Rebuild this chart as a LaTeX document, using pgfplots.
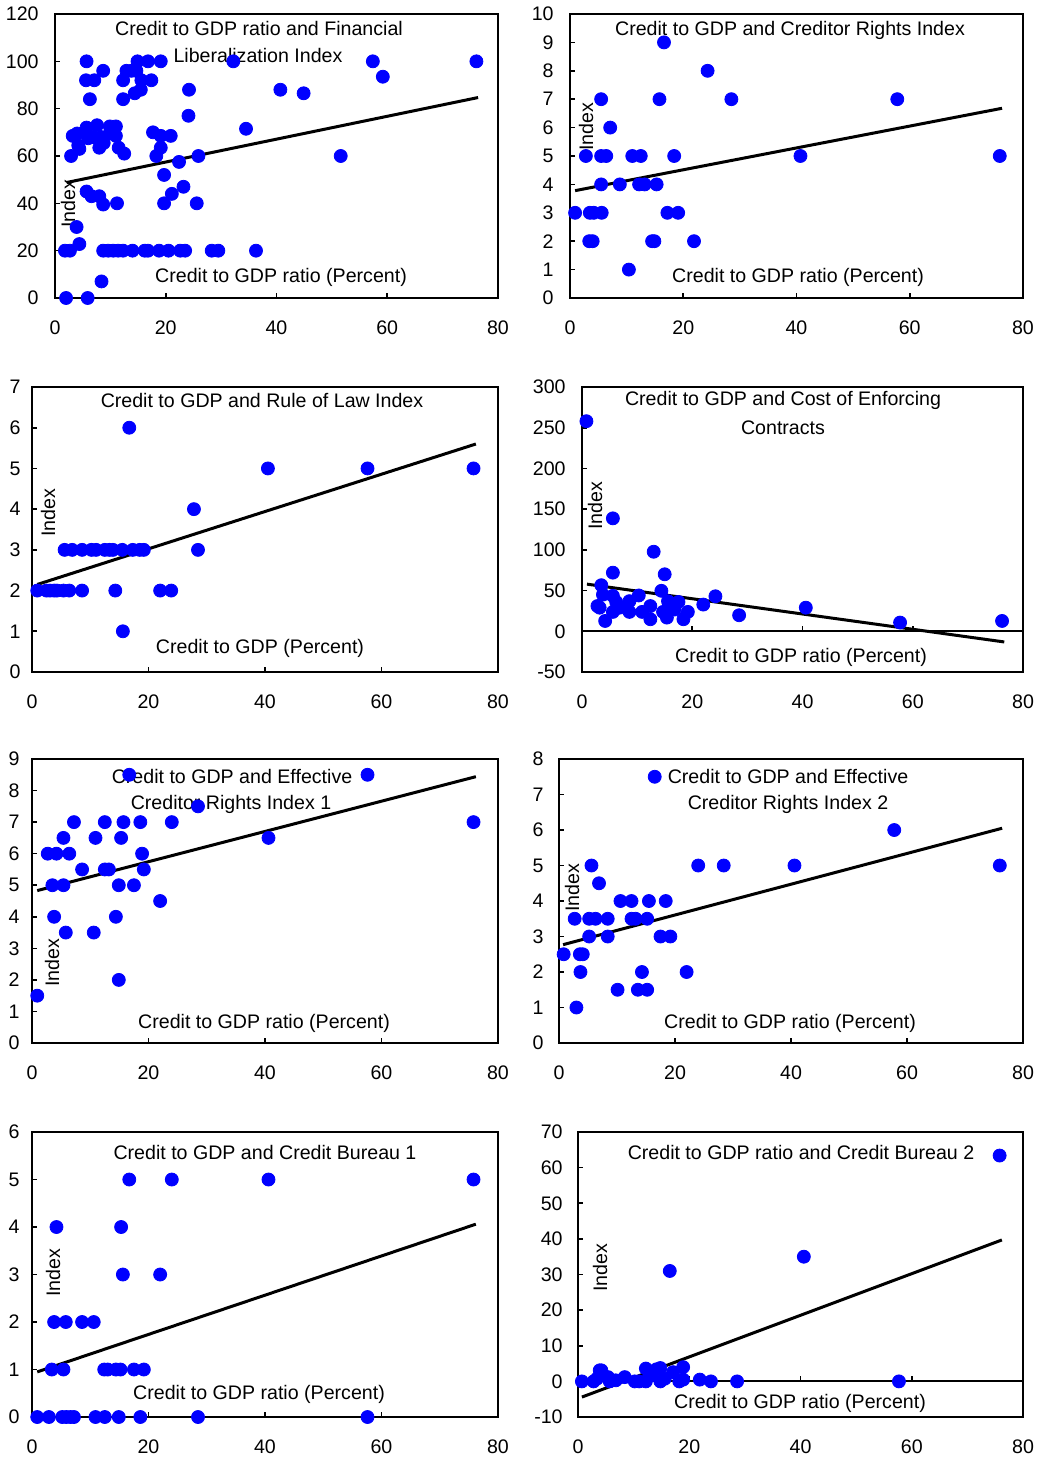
\documentclass[border=0pt]{standalone}
\usepackage{fontspec}
\setmainfont{Liberation Sans}
\usepackage{pgfplots}
\pgfplotsset{compat=1.18}
\newcommand\fs{\fontsize{9.8}{11.8}\selectfont}
\pgfplotsset{
  panel/.style={
    scale only axis, anchor=south west,
    xmin=0, xmax=80, xtick={0,20,40,60,80},
    tick align=inside, major tick length=2.5pt, tick pos=left,
    axis line style={line width=1pt},
    every tick/.style={black, line width=0.8pt},
    ticklabel style={font=\fs},
    /pgf/number format/assume math mode=true,
    xticklabel style={anchor=center, inner sep=0pt, yshift=-15pt},
    yticklabel style={anchor=east, inner sep=0pt, xshift=-8pt},
    clip=false,
  },
  dots/.style={only marks, mark=*, mark size=3.25pt, mark options={fill=blue, draw=blue}},
  trend/.style={black, line width=1.5pt, no marks},
}
\begin{document}
\begin{tikzpicture}
\path[use as bounding box] (0,0) rectangle (519.5pt,-730pt);
\begin{scope}[x=0.5pt,y=-0.5pt,every node/.style={font=\fs, inner sep=0pt}]
\node at (259,28) {Credit to GDP ratio and Financial};
\node at (258,56) {Liberalization Index};
\node at (281,277) {Credit to GDP ratio (Percent)};
\node[rotate=90] at (68,204) {Index};
\node at (790,30) {Credit to GDP and Creditor Rights Index};
\node at (798,277) {Credit to GDP ratio (Percent)};
\node[rotate=90] at (586,127) {Index};
\node at (262,400) {Credit to GDP and Rule of Law Index};
\node at (260,648) {Credit to GDP (Percent)};
\node[rotate=90] at (48,513) {Index};
\node at (783,400) {Credit to GDP and Cost of Enforcing};
\node at (783,428) {Contracts};
\node at (801,657) {Credit to GDP ratio (Percent)};
\node[rotate=90] at (595,506) {Index};
\node at (232,776) {Credit to GDP and Effective};
\node at (231,804) {Creditor Rights Index 1};
\node at (264,1023) {Credit to GDP ratio (Percent)};
\node[rotate=90] at (52,963) {Index};
\node at (788,776) {Credit to GDP and Effective};
\node at (788,804) {Creditor Rights Index 2};
\node at (790,1023) {Credit to GDP ratio (Percent)};
\node[rotate=90] at (572,888) {Index};
\node at (265,1152) {Credit to GDP and Credit Bureau 1};
\node at (259,1394) {Credit to GDP ratio (Percent)};
\node[rotate=90] at (53,1273) {Index};
\node at (801,1152) {Credit to GDP ratio and Credit Bureau 2};
\node at (800,1403) {Credit to GDP ratio (Percent)};
\node[rotate=90] at (600,1268) {Index};
\end{scope}

% Panel 1
\begin{axis}[panel, at={(27.5pt,-149pt)}, width=221.5pt, height=142pt,
  ymin=0, ymax=120, ytick={0,20,...,120}]
\addplot[dots] coordinates {(2.0,0) (5.9,0) (8.4,7) (1.8,20) (2.7,20) (4.4,22.8) (3.9,30) (5.7,45) (6.6,43) (8.0,43) (8.7,39.5) (11.2,40) (2.9,60) (3.2,68.5) (4.0,69.5) (4.2,64.5) (4.4,63) (5.7,72) (6.0,67.5) (6.9,68) (7.6,73) (8.0,63.5) (8.4,68) (8.8,65.5) (9.9,72.5) (11.0,72.5) (9.9,69.5) (11.0,68.5) (11.5,63.5) (12.5,61) (5.7,100) (5.6,92) (7.1,92) (6.3,84) (8.7,96) (12.3,92) (12.3,84) (12.9,96) (13.8,96) (14.7,96) (14.9,100) (16.8,100) (19.1,100) (14.4,86.5) (15.5,88) (15.6,92) (17.4,92) (17.7,70) (18.3,60) (19.1,68.5) (19.1,63.5) (20.9,68.5) (19.7,52) (19.7,40) (21.1,44) (22.4,57.5) (23.2,47) (24.2,88) (24.1,77) (25.9,60) (25.6,40) (32.2,100) (34.5,71.5) (40.7,88) (44.9,86.5) (51.6,60) (57.4,100) (59.2,93.5) (76.1,100) (8.7,20) (9.6,20) (10.5,20) (11.4,20) (12.3,20) (14.0,20) (16.2,20) (16.8,20) (18.8,20) (20.5,20) (22.6,20) (23.5,20) (28.3,20) (29.5,20) (36.3,20)};
\addplot[trend] coordinates {(2.1,48.8) (76.4,84.7)};
\end{axis}

% Panel 2
\begin{axis}[panel, at={(285pt,-149pt)}, width=226.5pt, height=142pt,
  ymin=0, ymax=10, ytick={0,1,...,10}]
\addplot[dots] coordinates {(0.9,3) (2.8,5) (3.5,3) (4.2,3) (3.4,2) (4.0,2) (5.5,7) (5.5,5) (6.4,5) (5.5,4) (5.6,3) (7.1,6) (8.8,4) (10.4,1) (11.0,5) (12.5,5) (12.2,4) (13.2,4) (14.5,2) (14.9,2) (15.3,4) (15.8,7) (16.6,9) (17.2,3) (19.1,3) (18.4,5) (21.9,2) (24.3,8) (28.5,7) (40.7,5) (57.8,7) (75.9,5)};
\addplot[trend] coordinates {(0.9,3.78) (76.3,6.68)};
\end{axis}

% Panel 3
\begin{axis}[panel, at={(16pt,-336pt)}, width=233pt, height=142.5pt,
  ymin=0, ymax=7, ytick={0,1,...,7}, yticklabel style={xshift=2.5pt}]
\addplot[dots] coordinates {(0.9,2) (2.5,2) (3.1,2) (3.8,2) (4.3,2) (5.4,2) (6.4,2) (8.6,2) (14.3,2) (22.0,2) (23.9,2) (15.6,1) (16.7,6) (5.6,3) (6.9,3) (8.6,3) (10.2,3) (11.0,3) (12.5,3) (13.3,3) (13.9,3) (15.5,3) (17.3,3) (18.5,3) (19.2,3) (27.8,4) (28.5,3) (40.5,5) (57.6,5) (75.8,5)};
\addplot[trend] coordinates {(0.9,2.15) (76.2,5.6)};
\end{axis}

% Panel 4
\begin{axis}[panel, at={(291pt,-336pt)}, width=220.5pt, height=142.5pt,
  ymin=-50, ymax=300, ytick={-50,0,...,300}, xtick style={draw=none}]
\draw[line width=1pt] (axis cs:0,0) -- (axis cs:80,0);
\draw[line width=0.8pt] (axis cs:20,0) -- ++(0pt,2.5pt);
\draw[line width=0.8pt] (axis cs:40,0) -- ++(0pt,2.5pt);
\draw[line width=0.8pt] (axis cs:60,0) -- ++(0pt,2.5pt);
\addplot[dots] coordinates {(0.8,258) (2.8,31) (3.2,29) (3.5,56.6) (3.8,45) (4.2,12.7) (5.6,138.7) (5.6,72) (5.6,43.5) (5.6,23.8) (6.2,36) (6.8,29) (8.6,37) (8.6,23.8) (10.3,44) (10.9,23.8) (12.4,31) (12.4,14.8) (13.0,97.7) (14.4,49.7) (14.7,23.8) (15.0,70) (15.4,16.8) (15.6,37) (16.8,26.7) (17.5,36) (18.4,14.8) (19.2,23.8) (22.0,32.8) (24.2,43) (28.5,19.7) (40.6,29) (57.7,10.7) (76.2,12.7)};
\addplot[trend] coordinates {(0.9,57.9) (76.6,-13.1)};
\end{axis}

% Panel 5
\begin{axis}[panel, at={(16pt,-521.5pt)}, width=233pt, height=142pt,
  ymin=0, ymax=9, ytick={0,1,...,9}, yticklabel style={xshift=2pt}]
\addplot[dots] coordinates {(0.9,1.5) (2.7,6) (4.2,6) (3.5,5) (3.8,4) (5.4,6.5) (5.4,5) (5.8,3.5) (6.4,6) (7.2,7) (8.6,5.5) (10.6,3.5) (10.9,6.5) (12.5,7) (12.5,5.5) (13.2,5.5) (14.4,4) (14.9,2) (14.9,5) (15.3,6.5) (15.7,7) (16.7,8.5) (17.5,5) (18.6,7) (18.9,6) (19.2,5.5) (22.0,4.5) (24.0,7) (28.5,7.5) (40.6,6.5) (57.6,8.5) (75.8,7)};
\addplot[trend] coordinates {(0.9,4.83) (76.2,8.44)};
\end{axis}

% Panel 6
\begin{axis}[panel, at={(279.5pt,-521.5pt)}, width=232pt, height=142pt,
  ymin=0, ymax=8, ytick={0,1,...,8}, yticklabel style={xshift=0.5pt}]
\addplot[dots] coordinates {(0.8,2.5) (2.7,3.5) (3.0,1) (3.6,2.5) (4.1,2.5) (3.7,2) (5.2,3) (5.2,3.5) (6.3,3.5) (5.6,5) (6.9,4.5) (8.4,3.5) (8.4,3) (10.1,1.5) (10.6,4) (12.5,4) (12.5,3.5) (13.2,3.5) (13.6,1.5) (15.2,1.5) (14.3,2) (15.2,3.5) (15.5,4) (16.5,7.5) (17.5,3) (18.4,4) (19.2,3) (22.0,2) (24.0,5) (28.4,5) (40.6,5) (57.8,6) (76.0,5)};
\addplot[trend] coordinates {(0.7,2.77) (76.4,6.05)};
\end{axis}

% Panel 7
\begin{axis}[panel, at={(16pt,-708.5pt)}, width=233pt, height=142.5pt,
  ymin=0, ymax=6, ytick={0,1,...,6}, yticklabel style={xshift=2pt}]
\addplot[dots] coordinates {(0.9,0) (2.9,0) (5.2,0) (5.9,0) (6.6,0) (7.2,0) (10.9,0) (12.5,0) (14.9,0) (18.6,0) (28.5,0) (57.6,0) (3.4,1) (5.4,1) (12.4,1) (13.0,1) (14.4,1) (15.2,1) (17.5,1) (19.2,1) (3.8,2) (5.8,2) (8.6,2) (10.6,2) (15.6,3) (22.0,3) (4.2,4) (15.3,4) (16.7,5) (24.0,5) (40.6,5) (75.8,5)};
\addplot[trend] coordinates {(0.9,0.95) (76.2,4.06)};
\end{axis}

% Panel 8
\begin{axis}[panel, at={(289pt,-708.5pt)}, width=222.5pt, height=142.5pt,
  ymin=-10, ymax=70, ytick={-10,0,...,70}, xtick style={draw=none}, yticklabel style={xshift=0.5pt}]
\draw[line width=1pt] (axis cs:0,0) -- (axis cs:80,0);
\draw[line width=0.8pt] (axis cs:20,0) -- ++(0pt,2.5pt);
\draw[line width=0.8pt] (axis cs:40,0) -- ++(0pt,2.5pt);
\draw[line width=0.8pt] (axis cs:60,0) -- ++(0pt,2.5pt);
\addplot[dots] coordinates {(0.7,0) (2.8,0) (3.4,0.75) (3.9,3.1) (4.2,3.1) (5.4,1.2) (5.7,0) (6.8,0.3) (8.4,1.2) (10.2,0) (11.0,0) (12.2,3.6) (12.2,0) (13.1,1.7) (14.1,3.4) (14.8,3.75) (14.8,0) (15.6,0.75) (16.5,31) (17.1,2.6) (18.2,0) (18.9,4.0) (18.9,0.5) (21.9,0.5) (23.9,0) (28.6,0) (40.6,35) (57.7,0) (75.8,63.4)};
\addplot[trend] coordinates {(0.7,-4.4) (76.2,39.7)};
\end{axis}
\end{tikzpicture}
\end{document}
